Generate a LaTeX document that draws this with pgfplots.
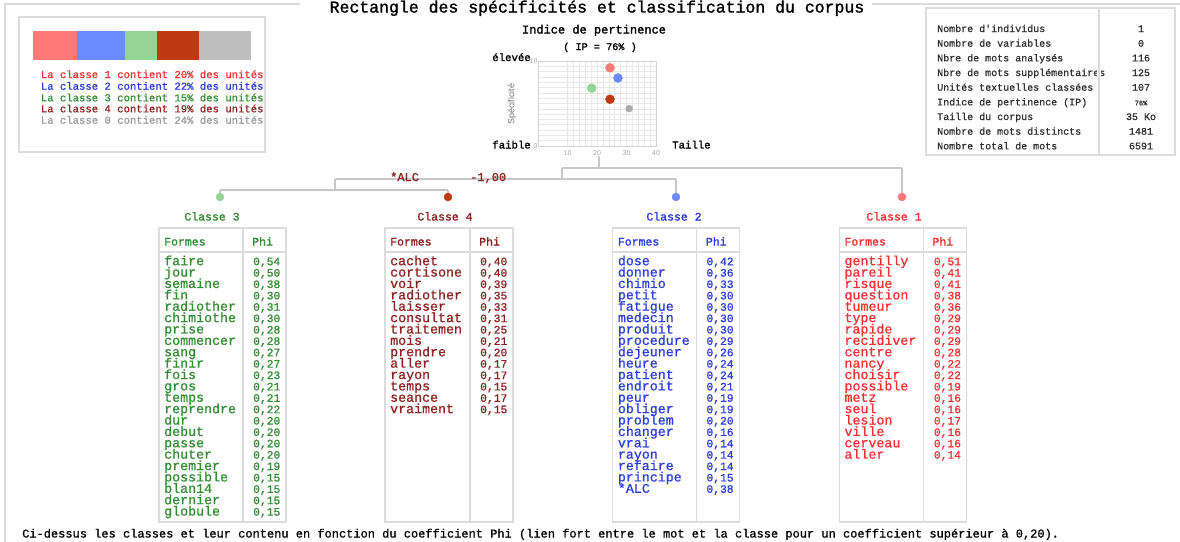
\documentclass[border=0pt]{standalone}
\usepackage{pgfplots}
\pgfplotsset{compat=1.18}
\usepackage{fontspec}
\setmainfont{Liberation Mono}
\newfontfamily\cour[FakeBold=0.9]{Liberation Mono}
\newfontfamily\courb[FakeBold=1.5]{Liberation Mono}
\newfontfamily\lsans{Liberation Sans}
\newcommand\fs[1]{\fontsize{#1}{#1}\selectfont}

\definecolor{tRed}{HTML}{F03232}
\definecolor{tBlue}{HTML}{2D3CDC}
\definecolor{tGreen}{HTML}{338C33}
\definecolor{tDark}{HTML}{8C2323}
\definecolor{tGray}{HTML}{9A9A9A}
\definecolor{bRed}{HTML}{FF7878}
\definecolor{bBlue}{HTML}{6A8CFF}
\definecolor{bGreen}{HTML}{94D494}
\definecolor{bDark}{HTML}{BF3A12}
\definecolor{bGray}{HTML}{BEBEBE}
\definecolor{dGray}{HTML}{AAAAAA}
\definecolor{lineGray}{HTML}{C8C8C8}
\definecolor{boxGray}{HTML}{DCDCDC}
\definecolor{txt}{HTML}{303030}

\newcommand\ctable[5]{%
  \draw[boxGray, line width=1.2pt] (#1,228) rectangle (#2,522);
  \draw[boxGray, line width=1.2pt] (#3,228) -- (#3,522);
  \draw[boxGray, line width=1.2pt] (#1,252) -- (#2,252);
  \node[anchor=base west, inner sep=0pt, text=#4, font=\courb\fs{11.5}] at (#1+5,245.5) {Formes};
  \node[anchor=base west, inner sep=0pt, text=#4, font=\courb\fs{11.5}] at (#3+9,245.5) {Phi};
  \foreach \w/\v [count=\i from 0] in {#5} {
    \node[anchor=base west, inner sep=0pt, text=#4, font=\cour\fs{13.3}] at (#1+5, 265.2+11.38*\i) {\w};
    \node[anchor=base east, inner sep=0pt, text=#4, font=\cour\fs{11.3}] at (#2-5.5, 265.2+11.38*\i) {\v};
  }%
}

\begin{document}
\begin{tikzpicture}
\useasboundingbox (0pt,0pt) rectangle (1180pt,-541pt);
\clip (0pt,0pt) rectangle (1180pt,-541pt);

% ---- class proportions (stacked bar)
\begin{axis}[at={(33pt,-60pt)}, anchor=south west, scale only axis,
  width=218pt, height=29pt, xbar stacked, xmin=0, xmax=100,
  ymin=0.5, ymax=1.5, bar width=29pt, hide axis, enlargelimits=false]
\addplot[fill=bRed, draw=none] coordinates {(20,1)};
\addplot[fill=bBlue, draw=none] coordinates {(22,1)};
\addplot[fill=bGreen, draw=none] coordinates {(15,1)};
\addplot[fill=bDark, draw=none] coordinates {(19,1)};
\addplot[fill=bGray, draw=none] coordinates {(24,1)};
\end{axis}

% ---- dendrogram (pixel coordinates)
\begin{axis}[at={(0pt,-541pt)}, anchor=south west, scale only axis,
  width=1180pt, height=541pt, xmin=0, xmax=1180, ymin=0, ymax=541,
  y dir=reverse, hide axis, clip=false]
\addplot[no marks, draw=lineGray, line width=1.5pt] coordinates {(599,156)(599,168)};
\addplot[no marks, draw=lineGray, line width=1.5pt] coordinates {(562,168)(902,168)};
\addplot[no marks, draw=lineGray, line width=1.5pt] coordinates {(562,168)(562,179)};
\addplot[no marks, draw=lineGray, line width=1.5pt] coordinates {(902,168)(902,197)};
\addplot[no marks, draw=lineGray, line width=1.5pt] coordinates {(335,179)(676,179)};
\addplot[no marks, draw=lineGray, line width=1.5pt] coordinates {(676,179)(676,197)};
\addplot[no marks, draw=lineGray, line width=1.5pt] coordinates {(335,179)(335,190)};
\addplot[no marks, draw=lineGray, line width=1.5pt] coordinates {(220,190)(448,190)};
\addplot[no marks, draw=lineGray, line width=1.5pt] coordinates {(220,190)(220,197)};
\addplot[no marks, draw=lineGray, line width=1.5pt] coordinates {(448,190)(448,197)};
\addplot[only marks, mark=*, mark size=4pt, color=bGreen] coordinates {(220,197)};
\addplot[only marks, mark=*, mark size=4pt, color=bDark] coordinates {(448,197)};
\addplot[only marks, mark=*, mark size=4pt, color=bBlue] coordinates {(676,197)};
\addplot[only marks, mark=*, mark size=4pt, color=bRed] coordinates {(902,197)};
\end{axis}

% ---- Indice de pertinence scatter
\begin{axis}[at={(538pt,-146pt)}, anchor=south west, scale only axis,
  width=118pt, height=85pt, xmin=0, xmax=40, ymin=0, ymax=10,
  xtick={10,20,30,40}, ytick={0,10}, minor x tick num=4, minor y tick num=15,
  grid=both, major grid style={draw=gray!18, line width=0.6pt},
  minor grid style={draw=gray!18, line width=0.6pt},
  axis line style={draw=gray!35, line width=1pt},
  major tick length=0pt, minor tick length=0pt,
  tick label style={font=\lsans\fs{7}, text=gray!70},
  /pgf/number format/assume math mode=true,
  xticklabel style={yshift=-1pt}, yticklabel style={xshift=3pt}]
\addplot[only marks, mark=*, mark size=4.5pt, color=bRed] coordinates {(24.4,9.2)};
\addplot[only marks, mark=*, mark size=4.5pt, color=bBlue] coordinates {(27.1,8.0)};
\addplot[only marks, mark=*, mark size=4.5pt, color=bGreen] coordinates {(18.2,6.8)};
\addplot[only marks, mark=*, mark size=4.5pt, color=bDark] coordinates {(24.4,5.5)};
\addplot[only marks, mark=*, mark size=3.5pt, color=dGray] coordinates {(30.9,4.4)};
\end{axis}

\begin{scope}[x=1pt, y=-1pt]
% outer frame
\draw[boxGray, line width=1.5pt] (300,4) -- (5,4) -- (5,545);
\draw[boxGray, line width=1.5pt] (872,4) -- (1185,4);
\node[anchor=base, inner sep=0pt, font=\courb\fs{16.5}, text=black] at (597,12.5) {Rectangle des spécificités et classification du corpus};

% legend box
\draw[boxGray, line width=1.2pt] (19,17) rectangle (265,152);
\node[anchor=base west, inner sep=0pt, font=\cour\fs{10.6}, text=tRed]   at (40.7,78)    {La classe 1 contient 20\% des unités};
\node[anchor=base west, inner sep=0pt, font=\cour\fs{10.6}, text=tBlue]  at (40.7,89.7)  {La classe 2 contient 22\% des unités};
\node[anchor=base west, inner sep=0pt, font=\cour\fs{10.6}, text=tGreen] at (40.7,101.3) {La classe 3 contient 15\% des unités};
\node[anchor=base west, inner sep=0pt, font=\cour\fs{10.6}, text=tDark]  at (40.7,112.3) {La classe 4 contient 19\% des unités};
\node[anchor=base west, inner sep=0pt, font=\cour\fs{10.6}, text=tGray]  at (40.7,123.7) {La classe 0 contient 24\% des unités};

% scatter titles and labels
\node[anchor=base, inner sep=0pt, font=\courb\fs{12}] at (594,33.5) {Indice de pertinence};
\node[anchor=base, inner sep=0pt, font=\courb\fs{10.2}] at (600,50) {( IP = 76\% )};
\node[anchor=base east, inner sep=0pt, font=\courb\fs{10.7}] at (531,61) {élevée};
\node[anchor=base east, inner sep=0pt, font=\courb\fs{10.7}] at (531,148.5) {faible};
\node[anchor=base west, inner sep=0pt, font=\courb\fs{10.7}] at (672,148.5) {Taille};
\node[rotate=90, inner sep=0pt, font=\lsans\fs{9}, text=black!55] at (512,104) {Spécificité};

% info box
\draw[boxGray, line width=1.2pt] (926,8) rectangle (1175,155);
\foreach \l/\v [count=\i from 0] in {Nombre d'individus/1, Nombre de variables/0,
  Nbre de mots analysés/116, Nbre de mots supplémentaires/125,
  Unités textuelles classées/107, Indice de pertinence (IP)/{},
  Taille du corpus/35 Ko, Nombre de mots distincts/1481, Nombre total de mots/6591} {
  \node[anchor=base west, inner sep=0pt, font=\cour\fs{10}, text=txt] at (937, 32+14.67*\i) {\l};
  \node[anchor=base, inner sep=0pt, font=\cour\fs{10}, text=txt] at (1141, 32+14.67*\i) {\v};
}
\node[anchor=base, inner sep=0pt, font=\cour\fs{7}, text=txt] at (1141, 32+14.67*5) {76\%};
\fill[white] (1097,12) rectangle (1101,151);
\draw[boxGray, line width=1.2pt] (1099,8) -- (1099,155);

% dendrogram labels
\node[anchor=base west, inner sep=0pt, font=\courb\fs{12}, text=tDark] at (390,181) {*ALC};
\node[anchor=base west, inner sep=0pt, font=\courb\fs{12}, text=tDark] at (470,181) {-1,00};
\node[anchor=base, inner sep=0pt, font=\courb\fs{11.5}, text=tGreen] at (212,220.5) {Classe 3};
\node[anchor=base, inner sep=0pt, font=\courb\fs{11.5}, text=tDark]  at (445,220.5) {Classe 4};
\node[anchor=base, inner sep=0pt, font=\courb\fs{11.5}, text=tBlue]  at (674,220.5) {Classe 2};
\node[anchor=base, inner sep=0pt, font=\courb\fs{11.5}, text=tRed]   at (894,220.5) {Classe 1};

% tables
\ctable{159}{286}{243}{tGreen}{faire/{0,54}, jour/{0,50}, semaine/{0,38}, fin/{0,30}, radiother/{0,31}, chimiothe/{0,30}, prise/{0,28}, commencer/{0,28}, sang/{0,27}, finir/{0,27}, fois/{0,23}, gros/{0,21}, temps/{0,21}, reprendre/{0,22}, dur/{0,20}, debut/{0,20}, passe/{0,20}, chuter/{0,20}, premier/{0,19}, possible/{0,15}, blan14/{0,15}, dernier/{0,15}, globule/{0,15}}
\ctable{385}{513}{470}{tDark}{cachet/{0,40}, cortisone/{0,40}, voir/{0,39}, radiother/{0,35}, laisser/{0,33}, consultat/{0,31}, traitemen/{0,25}, mois/{0,21}, prendre/{0,20}, aller/{0,17}, rayon/{0,17}, temps/{0,15}, seance/{0,17}, vraiment/{0,15}}
\ctable{612.7}{739.3}{696.7}{tBlue}{dose/{0,42}, donner/{0,36}, chimio/{0,33}, petit/{0,30}, fatigue/{0,30}, medecin/{0,30}, produit/{0,30}, procedure/{0,29}, dejeuner/{0,26}, heure/{0,24}, patient/{0,24}, endroit/{0,21}, peur/{0,19}, obliger/{0,19}, problem/{0,20}, changer/{0,16}, vrai/{0,14}, rayon/{0,14}, refaire/{0,14}, principe/{0,15}, *ALC/{0,38}}
\ctable{839.3}{966.7}{923.3}{tRed}{gentilly/{0,51}, pareil/{0,41}, risque/{0,41}, question/{0,38}, tumeur/{0,36}, type/{0,29}, rapide/{0,29}, recidiver/{0,29}, centre/{0,28}, nancy/{0,22}, choisir/{0,22}, possible/{0,19}, metz/{0,16}, seul/{0,16}, lesion/{0,17}, ville/{0,16}, cerveau/{0,16}, aller/{0,14}}

% caption
\node[anchor=base west, inner sep=0pt, font=\cour\fs{12}, text=black] at (22,537.5) {Ci-dessus les classes et leur contenu en fonction du coefficient Phi (lien fort entre le mot et la classe pour un coefficient supérieur à 0,20).};
\end{scope}
\end{tikzpicture}
\end{document}
